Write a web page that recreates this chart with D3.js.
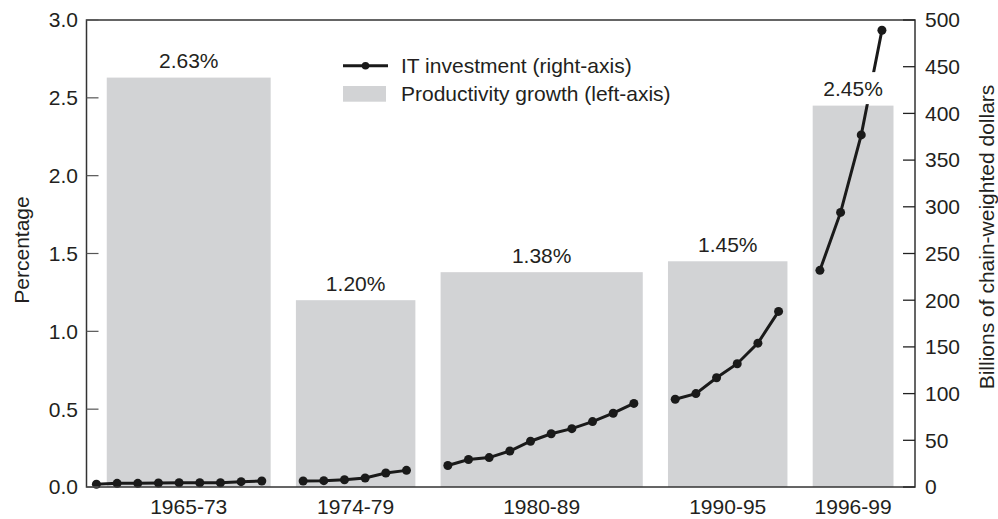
<!DOCTYPE html>
<html>
<head>
<meta charset="utf-8">
<script src="https://cdn.jsdelivr.net/npm/d3@7"></script>
<style>
  body { margin: 0; background: #fff; }
  text { font-family: "Liberation Sans", Arial, Helvetica, sans-serif; fill: #231f20; }
</style>
</head>
<body>
<script>
// periods shown as bars (left axis, percent)
const periods = ["1965-73", "1974-79", "1980-89", "1990-95", "1996-99"];
const periodStart = [1965, 1974, 1980, 1990, 1996];
const periodEnd = [1973, 1979, 1989, 1995, 1999];
const productivity = [2.63, 1.20, 1.38, 1.45, 2.45];

// yearly IT investment, billions of chain-weighted dollars (right axis)
const itYears = [
  1965, 1966, 1967, 1968, 1969, 1970, 1971, 1972, 1973,
  1974, 1975, 1976, 1977, 1978, 1979,
  1980, 1981, 1982, 1983, 1984, 1985, 1986, 1987, 1988, 1989,
  1990, 1991, 1992, 1993, 1994, 1995,
  1996, 1997, 1998, 1999
];
const itInvestment = [
  2.9, 3.9, 3.9, 4.3, 4.6, 4.6, 4.6, 5.7, 6.4,
  6.4, 6.8, 7.8, 9.6, 15.0, 17.8,
  23, 29.5, 31.5, 38.5, 49, 57, 62.5, 70, 79, 89.5,
  94, 100, 117, 132, 154, 188,
  232, 294, 377, 489
];

const leftTicks = [0, 0.5, 1.0, 1.5, 2.0, 2.5, 3.0];
const rightTicks = [0, 50, 100, 150, 200, 250, 300, 350, 400, 450, 500];

const W = 998, H = 519;
const margin = { top: 20, right: 83, bottom: 32, left: 86.5 };
const width = W - margin.left - margin.right;
const height = H - margin.top - margin.bottom;

function periodIndex(year) {
  return periodStart.findIndex((s, i) => year >= s && year <= periodEnd[i]);
}

// one empty slot between periods
function slot(year) {
  return (year - periodStart[0]) + periodIndex(year);
}

const x = d3.scaleLinear().domain([-0.48, 39.6]).range([0, width]);
const yLeft = d3.scaleLinear().domain([0, 3]).range([height, 0]);
const yRight = d3.scaleLinear().domain([0, 500]).range([height, 0]);

const svg = d3.select("body").append("svg")
    .attr("width", W)
    .attr("height", H)
  .append("g")
    .attr("transform", `translate(${margin.left},${margin.top})`);

// bars
const bars = periods.map((p, i) => ({
  label: p,
  value: productivity[i],
  x0: x(slot(periodStart[i]) + (i === 0 ? 0.5 : -0.35)),
  x1: x(slot(periodEnd[i]) + (i === periods.length - 1 ? 0.56 : 0.43))
}));

svg.selectAll(".bar").data(bars)
  .enter().append("rect")
    .attr("class", "bar")
    .attr("x", d => d.x0)
    .attr("width", d => d.x1 - d.x0)
    .attr("y", d => yLeft(d.value))
    .attr("height", d => height - yLeft(d.value))
    .style("fill", "#d2d3d5");

// investment line, one piece per period
const points = itYears.map((yr, i) => ({ slot: slot(yr), value: itInvestment[i], period: periodIndex(yr) }));
const line = d3.line()
    .x(d => x(d.slot))
    .y(d => yRight(d.value));

svg.selectAll(".it-line").data(d3.groups(points, d => d.period))
  .enter().append("path")
    .attr("class", "it-line")
    .attr("d", d => line(d[1]))
    .style("fill", "none")
    .style("stroke", "#1a1a1a")
    .style("stroke-width", 3);

svg.selectAll(".point").data(points)
  .enter().append("circle")
    .attr("class", "point")
    .attr("cx", d => x(d.slot))
    .attr("cy", d => yRight(d.value))
    .attr("r", 4.5)
    .style("fill", "#1a1a1a");

// value labels with white backing
const labels = svg.selectAll(".vlabel").data(bars)
  .enter().append("g")
    .attr("class", "vlabel")
    .attr("transform", d => `translate(${(d.x0 + d.x1) / 2},${yLeft(d.value) - 9.5})`);
labels.append("rect")
    .attr("x", -33)
    .attr("y", -24)
    .attr("width", 66)
    .attr("height", 32)
    .style("fill", "#fff");
labels.append("text")
    .style("text-anchor", "middle")
    .style("font-size", "21px")
    .text(d => d.value.toFixed(2) + "%");

// frame
svg.append("rect")
    .attr("width", width)
    .attr("height", height)
    .style("fill", "none")
    .style("stroke", "#333")
    .style("stroke-width", 1.5);

// left axis
const leftAxis = svg.append("g");
leftAxis.selectAll("line").data(leftTicks)
  .enter().append("line")
    .attr("x1", 0)
    .attr("x2", 12)
    .attr("y1", d => yLeft(d))
    .attr("y2", d => yLeft(d))
    .style("stroke", "#555")
    .style("stroke-width", 1.2);
leftAxis.selectAll("text").data(leftTicks)
  .enter().append("text")
    .attr("x", -8.5)
    .attr("y", d => yLeft(d))
    .attr("dy", "0.35em")
    .style("text-anchor", "end")
    .style("font-size", "21px")
    .text(d => d.toFixed(1));

// right axis
const rightAxis = svg.append("g")
    .attr("transform", `translate(${width},0)`);
rightAxis.selectAll("line").data(rightTicks)
  .enter().append("line")
    .attr("x1", -12)
    .attr("x2", 0)
    .attr("y1", d => yRight(d))
    .attr("y2", d => yRight(d))
    .style("stroke", "#222")
    .style("stroke-width", 1.3);
rightAxis.selectAll("text").data(rightTicks)
  .enter().append("text")
    .attr("x", 10)
    .attr("y", d => yRight(d))
    .attr("dy", "0.35em")
    .style("font-size", "21px")
    .text(d => d);

// category labels
svg.selectAll(".xlabel").data(bars)
  .enter().append("text")
    .attr("class", "xlabel")
    .attr("x", d => (d.x0 + d.x1) / 2)
    .attr("y", height + 26.5)
    .style("text-anchor", "middle")
    .style("font-size", "21px")
    .text(d => d.label);

// axis titles
svg.append("text")
    .attr("transform", `translate(${21.7 - margin.left},${250 - margin.top}) rotate(-90)`)
    .attr("dy", "0.35em")
    .style("text-anchor", "middle")
    .style("font-size", "21px")
    .text("Percentage");

svg.append("text")
    .attr("transform", `translate(${986.7 - margin.left},${237 - margin.top}) rotate(-90)`)
    .attr("dy", "0.35em")
    .style("text-anchor", "middle")
    .style("font-size", "21px")
    .text("Billions of chain-weighted dollars");

// legend
const legend = svg.append("g")
    .attr("transform", `translate(${343 - margin.left},${65.7 - margin.top})`);
legend.append("line")
    .attr("x1", 0)
    .attr("x2", 45)
    .style("stroke", "#1a1a1a")
    .style("stroke-width", 3);
legend.append("circle")
    .attr("cx", 22.5)
    .attr("r", 3.8)
    .style("fill", "#1a1a1a");
legend.append("text")
    .attr("x", 58)
    .attr("dy", "0.35em")
    .style("font-size", "21px")
    .text("IT investment (right-axis)");
legend.append("rect")
    .attr("y", 20.3)
    .attr("width", 43)
    .attr("height", 15.7)
    .style("fill", "#d2d3d5");
legend.append("text")
    .attr("x", 58)
    .attr("y", 27.6)
    .attr("dy", "0.35em")
    .style("font-size", "21px")
    .text("Productivity growth (left-axis)");
</script>
</body>
</html>
